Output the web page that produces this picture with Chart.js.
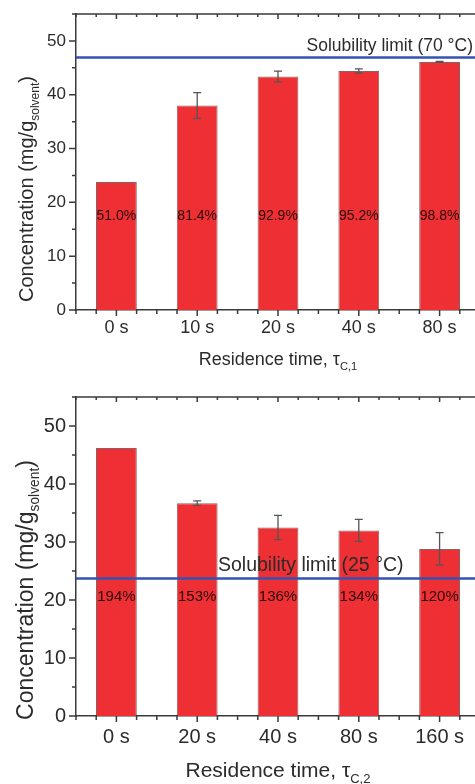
<!DOCTYPE html>
<html lang="en">
    <head>
        <meta charset="utf-8" />
        <script src="https://cdn.jsdelivr.net/npm/chart.js@4.4.1/dist/chart.umd.min.js"></script>
        <title>Concentration vs residence time</title>
        <style>
            html, body { margin: 0; padding: 0; background: #fff; overflow: hidden; width: 475px; height: 784px; }
            canvas { position: absolute; left: 0; }
        </style>
    </head>
    <body>
        <canvas id="top" width="485" height="390" style="top:0"></canvas>
        <canvas id="bottom" width="485" height="394" style="top:390px"></canvas>
        <script>
            // data
            const catsTop = ["0 s", "10 s", "20 s", "40 s", "80 s"];
            const concTop = [23.8, 38.0, 43.4, 44.4, 46.1];
            const errTop = [0, 2.4, 1.0, 0.4, 0.1];
            const pctTop = ["51.0%", "81.4%", "92.9%", "95.2%", "98.8%"];
            const limitTop = 46.9;

            const catsBot = ["0 s", "20 s", "40 s", "80 s", "160 s"];
            const concBot = [46.2, 36.7, 32.5, 32.0, 28.8];
            const errBot = [0, 0.4, 2.1, 1.9, 2.8];
            const pctBot = ["194%", "153%", "136%", "134%", "120%"];
            const limitBot = 23.7;

            const yMax = 55;
            const FONT = '"Liberation Sans", Arial, sans-serif';
            const AXIS = "#3a3a3a";

            // text with a subscript part, parts = [[text, size, dy], ...]
            function subText(ctx, parts, cx, y) {
                let w = 0;
                parts.forEach(p => { ctx.font = p[1] + "px " + FONT; w += ctx.measureText(p[0]).width; });
                let x = cx - w / 2;
                ctx.textAlign = "left";
                ctx.textBaseline = "alphabetic";
                parts.forEach(p => {
                    ctx.font = p[1] + "px " + FONT;
                    ctx.fillText(p[0], x, y + p[2]);
                    x += ctx.measureText(p[0]).width;
                });
            }

            const decor = {
                id: "decor",
                afterDatasetsDraw(chart, args, o) {
                    const ctx = chart.ctx, x = chart.scales.x, y = chart.scales.y, a = chart.chartArea;
                    const meta = chart.getDatasetMeta(0);
                    const vals = chart.data.datasets[0].data;
                    ctx.save();
                    // error bars
                    ctx.strokeStyle = "#555";
                    ctx.lineWidth = 1.3;
                    o.errors.forEach((e, i) => {
                        if (!e) return;
                        const px = meta.data[i].x;
                        const t = y.getPixelForValue(vals[i] + e), b = y.getPixelForValue(vals[i] - e);
                        ctx.beginPath();
                        ctx.moveTo(px, t); ctx.lineTo(px, b);
                        ctx.moveTo(px - 4, t); ctx.lineTo(px + 4, t);
                        ctx.moveTo(px - 4, b); ctx.lineTo(px + 4, b);
                        ctx.stroke();
                    });
                    // solubility limit
                    const ly = y.getPixelForValue(o.limit);
                    ctx.strokeStyle = "#3452b4";
                    ctx.lineWidth = 2.5;
                    ctx.beginPath();
                    ctx.moveTo(a.left, ly); ctx.lineTo(a.right, ly);
                    ctx.stroke();
                    ctx.fillStyle = "#2b2b2b";
                    ctx.font = o.limitSize + "px " + FONT;
                    ctx.textAlign = o.limitAlign;
                    ctx.textBaseline = "alphabetic";
                    ctx.fillText(o.limitLabel, o.limitX, ly - o.limitGap);
                    // percentages inside bars
                    ctx.fillStyle = "#2a0808";
                    ctx.font = o.pctSize + "px " + FONT;
                    ctx.textAlign = "center";
                    ctx.textBaseline = "middle";
                    const py = y.getPixelForValue(o.pctAt);
                    o.pct.forEach((p, i) => ctx.fillText(p, meta.data[i].x, py));
                    ctx.restore();
                },
                afterDraw(chart, args, o) {
                    const ctx = chart.ctx, x = chart.scales.x, y = chart.scales.y, a = chart.chartArea;
                    ctx.save();
                    ctx.strokeStyle = AXIS;
                    ctx.lineWidth = 1.5;
                    ctx.beginPath();
                    ctx.moveTo(a.left, a.top); ctx.lineTo(a.right + 1, a.top);
                    // x ticks, every quarter of a category
                    const n = chart.data.labels.length, sp = (a.right - a.left) / n;
                    for (let k = 0; k <= n * 4; k++) {
                        const px = a.left + sp * k / 4, major = k % 4 == 2;
                        ctx.moveTo(px, a.bottom); ctx.lineTo(px, a.bottom + (major ? 6 : 4));
                        ctx.moveTo(px, a.top); ctx.lineTo(px, a.top + (major ? 5 : 3));
                    }
                    // y ticks
                    for (let v = 0; v <= yMax; v += 5) {
                        const py = y.getPixelForValue(v);
                        ctx.moveTo(a.left, py); ctx.lineTo(a.left - (v % 10 ? 4 : 7), py);
                    }
                    ctx.stroke();
                    // axis titles
                    ctx.fillStyle = "#2b2b2b";
                    subText(ctx, [["Residence time, \u03c4", o.tSize, 0], [o.xSub, o.tSize * 0.62, o.tSize * 0.3]], (a.left + a.right) / 2, o.xTitleY);
                    ctx.translate(o.yTitleX, o.yTitleY);
                    ctx.rotate(-Math.PI / 2);
                    subText(ctx, [["Concentration (mg/g", o.yTSize, 0], ["solvent", o.yTSize * 0.6, o.yTSize * 0.28], [")", o.yTSize, 0]], 0, 0);
                    ctx.restore();
                }
            };

            function makeChart(id, cats, vals, sizes, deco) {
                return new Chart(document.getElementById(id), {
                    type: "bar",
                    data: {
                        labels: cats,
                        datasets: [{
                            data: vals,
                            backgroundColor: "#ee3034",
                            borderColor: "rgba(90,30,30,0.7)",
                            borderWidth: 1,
                            barPercentage: 0.505,
                            categoryPercentage: 1
                        }]
                    },
                    options: {
                        responsive: false,
                        animation: false,
                        layout: { padding: { left: 0, right: 5, top: sizes.top, bottom: 0 } },
                        plugins: { legend: { display: false }, tooltip: { enabled: false }, decor: deco },
                        scales: {
                            x: {
                                grid: { display: false, drawTicks: false },
                                border: { display: true, color: AXIS, width: 1.5 },
                                ticks: { color: "#2b2b2b", font: { family: FONT, size: sizes.xt }, padding: sizes.xPad, maxRotation: 0 },
                                afterFit: s => { s.height = sizes.xh; s.paddingLeft = 0; s.paddingRight = 0; }
                            },
                            y: {
                                min: 0, max: yMax,
                                grid: { display: false, drawTicks: false },
                                border: { display: true, color: AXIS, width: 1.5 },
                                ticks: {
                                    stepSize: 10, color: "#2b2b2b", padding: 10,
                                    font: { family: FONT, size: sizes.yt },
                                    callback: v => (v % 10 ? "" : v)
                                },
                                afterFit: s => { s.width = 76; s.paddingTop = 0; s.paddingBottom = 0; }
                            }
                        }
                    },
                    plugins: [decor]
                });
            }

            makeChart("top", catsTop, concTop, { top: 14, xh: 80, xt: 18, xPad: 7, yt: 17 }, {
                errors: errTop, pct: pctTop, pctAt: 17.4, pctSize: 14,
                limit: limitTop, limitLabel: "Solubility limit (70 \u00b0C)", limitSize: 17.5, limitAlign: "right", limitX: 473, limitGap: 6.5,
                xSub: "C,1", tSize: 18, xTitleY: 365, yTSize: 20, yTitleX: 33, yTitleY: 189
            });
            makeChart("bottom", catsBot, concBot, { top: 7, xh: 68, xt: 20, xPad: 9, yt: 20 }, {
                errors: errBot, pct: pctBot, pctAt: 20.6, pctSize: 15,
                limit: limitBot, limitLabel: "Solubility limit (25 \u00b0C)", limitSize: 19.5, limitAlign: "left", limitX: 218, limitGap: 7.5,
                xSub: "C,2", tSize: 21, xTitleY: 387, yTSize: 23, yTitleX: 33, yTitleY: 200
            });
        </script>
    </body>
</html>
